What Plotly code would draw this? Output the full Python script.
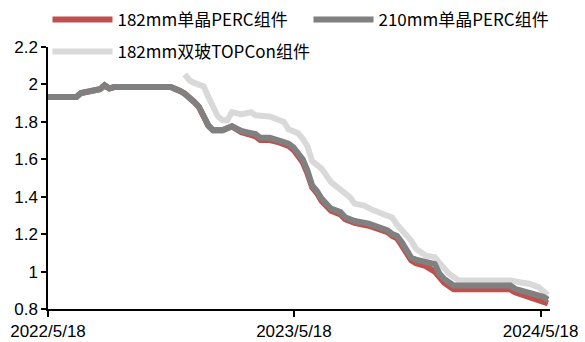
import plotly.graph_objects as go

# ---- data ----
perc_dates = ["2022-05-18","2022-06-29","2022-07-06","2022-07-20","2022-08-03","2022-08-10","2022-08-17","2022-08-24",
              "2022-11-16","2022-11-30","2022-12-07","2022-12-21","2022-12-28","2023-01-04","2023-01-11","2023-01-18",
              "2023-02-01","2023-02-15","2023-03-01","2023-03-15","2023-03-22","2023-03-29","2023-04-12","2023-04-26",
              "2023-05-10","2023-05-17","2023-05-24","2023-05-31","2023-06-07","2023-06-14","2023-06-21","2023-06-28",
              "2023-07-12","2023-07-26","2023-08-02","2023-08-16","2023-09-06","2023-09-13","2023-09-20","2023-10-04",
              "2023-10-11","2023-10-18","2023-10-25","2023-11-01","2023-11-08","2023-11-15","2023-11-29","2023-12-13",
              "2023-12-20","2023-12-27","2024-01-10","2024-04-03","2024-04-10","2024-04-24","2024-05-08","2024-05-22",
              "2024-05-29"]
perc210 = [1.933,1.933,1.954,1.965,1.974,1.995,1.978,1.986,1.986,1.965,1.95,1.906,1.88,1.83,1.78,1.755,
           1.755,1.776,1.751,1.74,1.735,1.715,1.715,1.70,1.683,1.665,1.63,1.60,1.54,1.46,1.43,1.39,
           1.336,1.318,1.29,1.27,1.256,1.246,1.235,1.22,1.20,1.19,1.157,1.12,1.075,1.063,1.05,1.04,
           0.988,0.96,0.926,0.926,0.908,0.895,0.881,0.865,0.85]
perc182 = [1.933,1.933,1.954,1.965,1.974,1.995,1.978,1.986,1.986,1.965,1.95,1.906,1.88,1.83,1.78,1.755,
           1.755,1.776,1.745,1.73,1.722,1.703,1.703,1.69,1.672,1.652,1.618,1.585,1.525,1.45,1.42,1.378,
           1.325,1.305,1.28,1.26,1.245,1.235,1.225,1.21,1.19,1.178,1.14,1.10,1.06,1.045,1.03,1.00,
           0.97,0.94,0.905,0.905,0.89,0.875,0.86,0.84,0.83]
topcon_dates = ["2022-12-07","2022-12-14","2022-12-21","2023-01-04","2023-01-11","2023-01-18","2023-01-25","2023-02-01",
                "2023-02-08","2023-02-15","2023-03-01","2023-03-15","2023-03-22","2023-04-12","2023-05-03","2023-05-10",
                "2023-05-24","2023-05-31","2023-06-07","2023-06-14","2023-06-21","2023-06-28","2023-07-12","2023-07-26",
                "2023-08-09","2023-08-16","2023-08-30","2023-09-13","2023-09-27","2023-10-11","2023-10-18","2023-10-25",
                "2023-11-08","2023-11-15","2023-11-29","2023-12-13","2023-12-27","2024-01-03","2024-01-17","2024-04-03",
                "2024-04-17","2024-05-01","2024-05-15","2024-05-29"]
topcon182 = [2.054,2.022,2.008,1.99,1.933,1.88,1.83,1.808,1.808,1.852,1.84,1.852,1.835,1.829,1.80,1.76,
             1.74,1.71,1.67,1.59,1.565,1.55,1.478,1.434,1.398,1.363,1.353,1.327,1.309,1.288,1.25,1.22,
             1.166,1.122,1.086,1.077,1.024,0.988,0.954,0.952,0.943,0.935,0.917,0.875]

names = ["182mm单晶PERC组件", "210mm单晶PERC组件", "182mm双玻TOPCon组件"]
x_ticks = ["2022-05-18", "2023-05-18", "2024-05-18"]
x_tick_labels = ["2022/5/18", "2023/5/18", "2024/5/18"]
y_ticks = [0.8, 1, 1.2, 1.4, 1.6, 1.8, 2, 2.2]

fig = go.Figure()
fig.add_trace(go.Scatter(x=topcon_dates, y=topcon182, mode="lines", name=names[2],
                         line=dict(color="#D9D9D9", width=6), legend="legend2"))
fig.add_trace(go.Scatter(x=perc_dates, y=perc182, mode="lines", name=names[0],
                         line=dict(color="#C0504D", width=6), legend="legend"))
fig.add_trace(go.Scatter(x=perc_dates, y=perc210, mode="lines", name=names[1],
                         line=dict(color="#808080", width=6), legend="legend"))

legend_font = dict(family="Noto Sans CJK SC", size=17, color="#000000")
fig.update_layout(
    width=585, height=342,
    margin=dict(l=48, r=35, t=47, b=33, autoexpand=False),
    paper_bgcolor="white", plot_bgcolor="white",
    legend=dict(orientation="h", x=-0.001, y=1.103, xanchor="left", yanchor="middle",
                font=legend_font, itemwidth=60, entrywidth=186, traceorder="normal",
                bgcolor="rgba(0,0,0,0)"),
    legend2=dict(orientation="h", x=-0.001, y=0.981, xanchor="left", yanchor="middle",
                 font=legend_font, itemwidth=60, bgcolor="rgba(0,0,0,0)"),
    xaxis=dict(type="date", range=["2022-05-18", "2024-06-01"], tickvals=x_ticks, ticktext=x_tick_labels,
               showline=True, linecolor="#000000", linewidth=1.5, ticks="outside", ticklen=6,
               tickcolor="#000000", tickwidth=1.5, showgrid=False, zeroline=False,
               tickfont=dict(family="Liberation Sans", size=17, color="#000000")),
    yaxis=dict(range=[0.8, 2.2], tickvals=y_ticks, showline=True, linecolor="#000000", linewidth=1.5,
               ticks="outside", ticklen=5, tickcolor="#000000", tickwidth=1.5, showgrid=False,
               zeroline=False, tickfont=dict(family="Liberation Sans", size=17, color="#000000")),
)
fig.write_html("out.html")
